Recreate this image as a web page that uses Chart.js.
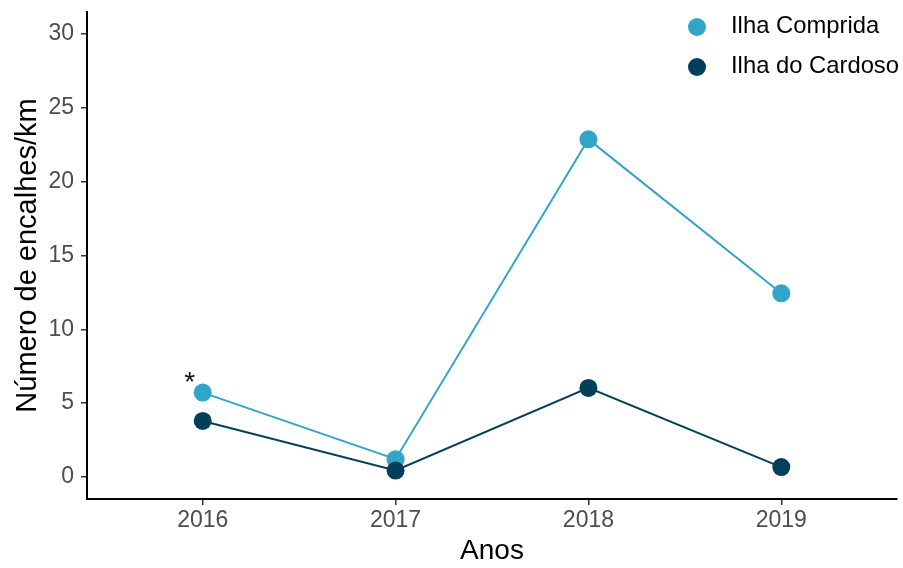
<!DOCTYPE html>
<html><head><meta charset="utf-8">
<script src="https://cdn.jsdelivr.net/npm/chart.js@4.4.1/dist/chart.umd.min.js"></script>
<style>html,body{margin:0;padding:0;background:#fff}#wrap{width:903px;height:568px}</style>
</head><body><div id="wrap"><canvas id="c" width="903" height="568"></canvas></div>
<script>
const years = [2016, 2017, 2018, 2019];
const ilhaComprida = [5.71, 1.20, 22.87, 12.44];
const ilhaCardoso = [3.79, 0.43, 6.03, 0.66];
const yTicks = [0, 5, 10, 15, 20, 25, 30];
const seriesNames = ['Ilha Comprida', 'Ilha do Cardoso'];
const seriesColors = ['#31A5C8', '#023F59'];
const xTitle = 'Anos';
const yTitle = 'Número de encalhes/km';
const noteText = '*';

const FONT = '"Liberation Sans", Arial, sans-serif';

const legendPlugin = {
  id: 'customLegend',
  afterDraw(chart) {
    const ctx = chart.ctx;
    ctx.save();
    ctx.font = '23.8px ' + FONT;
    ctx.textBaseline = 'middle';
    ctx.textAlign = 'left';
    seriesNames.forEach((n, i) => {
      const cy = 27 + 40 * i;
      ctx.fillStyle = seriesColors[i];
      ctx.beginPath();
      ctx.arc(697, cy, 9, 0, Math.PI * 2);
      ctx.fill();
      ctx.fillStyle = '#000';
      ctx.fillText(n, 731, cy - 1);
    });
    // asterisk note next to first point of first series
    const el = chart.getDatasetMeta(0).data[0];
    ctx.font = '28px ' + FONT;
    ctx.textAlign = 'center';
    ctx.textBaseline = 'alphabetic';
    ctx.fillStyle = '#111';
    ctx.fillText(noteText, el.x - 13, el.y - 2);
    ctx.restore();
  }
};

const tickFont = {family: FONT, size: 23};

new Chart(document.getElementById('c'), {
  type: 'line',
  data: {
    datasets: [
      {
        label: seriesNames[0],
        data: years.map((y, i) => ({x: y, y: ilhaComprida[i]})),
        borderColor: seriesColors[0],
        backgroundColor: seriesColors[0],
        pointBackgroundColor: seriesColors[0],
        borderWidth: 2,
        pointRadius: 9,
        pointBorderWidth: 0,
        pointHoverRadius: 9,
        order: 1
      },
      {
        label: seriesNames[1],
        data: years.map((y, i) => ({x: y, y: ilhaCardoso[i]})),
        borderColor: seriesColors[1],
        backgroundColor: seriesColors[1],
        pointBackgroundColor: seriesColors[1],
        borderWidth: 2,
        pointRadius: 9,
        pointBorderWidth: 0,
        pointHoverRadius: 9,
        order: 0
      }
    ]
  },
  options: {
    responsive: false,
    devicePixelRatio: 1,
    animation: false,
    events: [],
    layout: {autoPadding: false, padding: {top: 12, right: 6, left: 0, bottom: 0}},
    plugins: {legend: {display: false}, tooltip: {enabled: false}},
    scales: {
      x: {
        type: 'linear',
        min: 2015.4,
        max: 2019.6,
        afterBuildTicks: s => { s.ticks = years.map(v => ({value: v})); },
        afterFit: s => { s.height = 69; s.paddingLeft = 0; s.paddingRight = 0; },
        ticks: {color: '#4D4D4D', font: tickFont, padding: 2, callback: v => String(v), maxRotation: 0},
        grid: {drawOnChartArea: false, tickLength: 6, color: '#333', lineWidth: 1.5},
        border: {color: '#000', width: 2},
        title: {display: true, text: xTitle, color: '#000', font: {family: FONT, size: 28}, padding: {top: 0, bottom: 0}}
      },
      y: {
        type: 'linear',
        min: -1.5,
        max: 31.5,
        afterBuildTicks: s => { s.ticks = yTicks.map(v => ({value: v})); },
        afterFit: s => { s.width = 87; s.paddingTop = 0; s.paddingBottom = 0; },
        ticks: {color: '#4D4D4D', font: tickFont, padding: 7, callback: v => String(v)},
        grid: {drawOnChartArea: false, tickLength: 6, color: '#333', lineWidth: 1.5},
        border: {color: '#000', width: 2},
        title: {display: true, text: yTitle, color: '#000', font: {family: FONT, size: 29}, padding: {top: 11, bottom: 0}}
      }
    }
  },
  plugins: [legendPlugin]
});
</script>
</body></html>
